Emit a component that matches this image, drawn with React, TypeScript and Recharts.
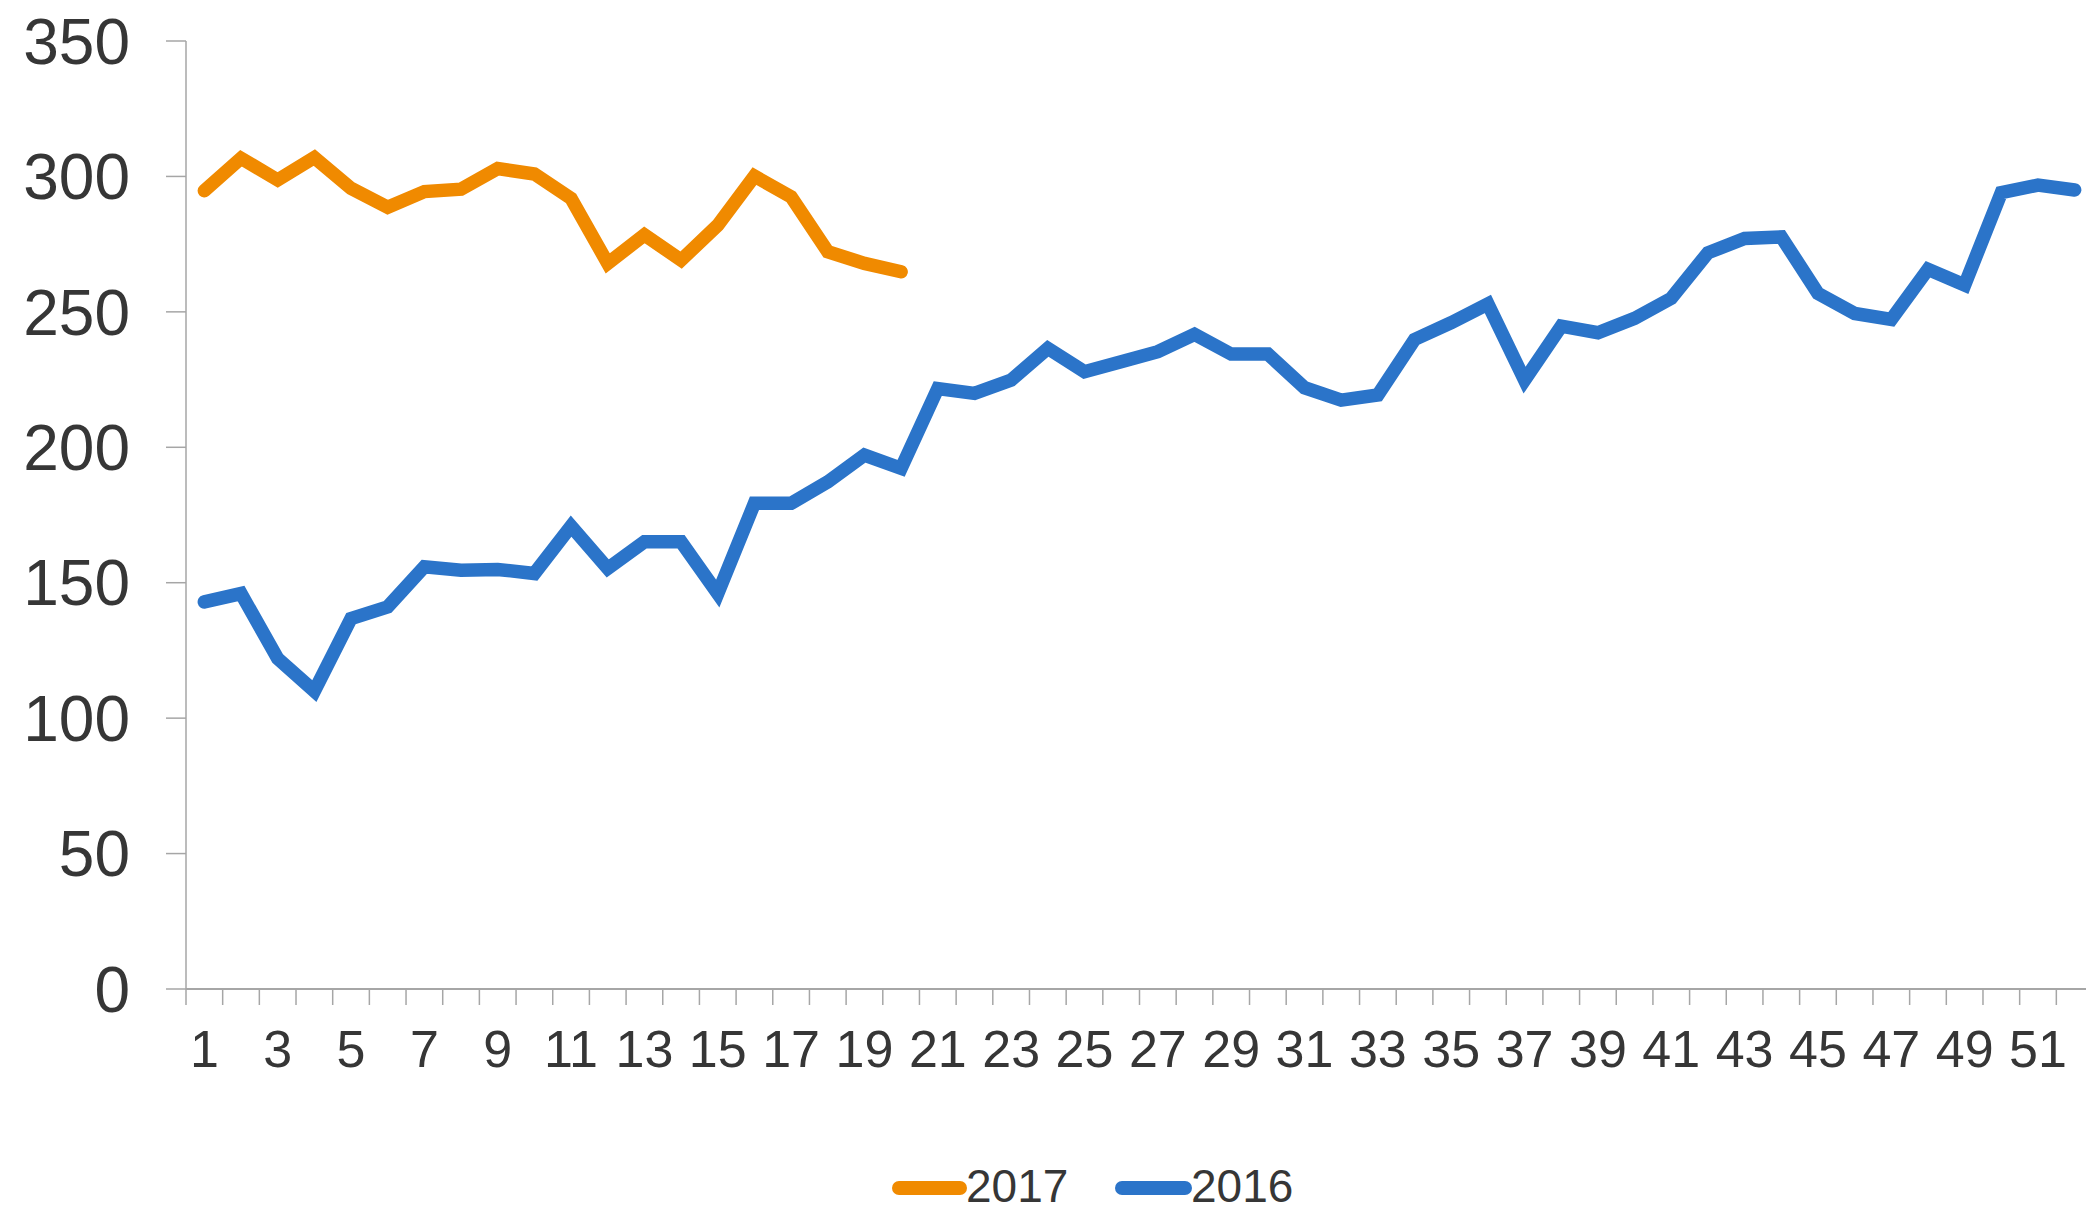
import React from 'react';
import { LineChart, Line, XAxis, YAxis, Legend } from 'recharts';

const weeks = [
  1, 2, 3, 4, 5, 6, 7, 8, 9, 10, 11, 12, 13, 14, 15, 16, 17, 18, 19, 20, 21, 22, 23, 24, 25, 26,
  27, 28, 29, 30, 31, 32, 33, 34, 35, 36, 37, 38, 39, 40, 41, 42, 43, 44, 45, 46, 47, 48, 49, 50, 51, 52,
];

const values2017 = [
  294.7, 306.7, 298.7, 307.0, 295.6, 288.6, 294.4, 295.3, 302.9, 300.9,
  291.9, 267.9, 278.4, 269.1, 282.0, 300.1, 292.5, 272.2, 267.9, 264.8,
];

const values2016 = [
  142.9, 146.0, 122.0, 110.0, 136.8, 141.1, 155.9, 154.6, 154.9, 153.4,
  170.9, 155.3, 165.1, 165.1, 146.0, 179.3, 179.3, 187.2, 197.1, 192.2,
  221.7, 219.9, 224.8, 236.5, 227.9, 231.6, 235.3, 241.7, 234.4, 234.4,
  222.0, 217.4, 219.3, 239.8, 246.0, 252.9, 224.8, 244.7, 242.3, 247.6,
  255.0, 271.8, 277.1, 277.7, 256.8, 249.4, 247.2, 265.7, 259.9, 294.0,
  296.8, 295.0,
];

const yTicks = [0, 50, 100, 150, 200, 250, 300, 350];

const seriesNames = ['2017', '2016'];
const seriesColors = ['#F08A00', '#2B74C9'];

const data = weeks.map((w, i) => ({
  week: w,
  s2017: i < values2017.length ? values2017[i] : undefined,
  s2016: values2016[i],
}));

const CHART_W = 2100;
const CHART_H = 1212;
const Y_AXIS_W = 186;
const MARGIN_RIGHT = 7;
const MARGIN_TOP = 41;
const X_AXIS_H = 223;
const AXIS_COLOR = '#A6A6A6';
const TEXT_COLOR = '#363636';
const FONT = '"Liberation Sans", Arial, Helvetica, sans-serif';
const HALF_BAND = (CHART_W - Y_AXIS_W - MARGIN_RIGHT) / weeks.length / 2;
const LINE_W = 13.5;

function WeekTick(props: any) {
  const { x, y, payload } = props;
  const v = payload.value;
  return (
    <g>
      <line
        x1={x - HALF_BAND}
        x2={x - HALF_BAND}
        y1={y}
        y2={y + 16}
        stroke={AXIS_COLOR}
        strokeWidth={1.5}
      />
      {v % 2 === 1 ? (
        <text
          x={x}
          y={y + 78}
          textAnchor="middle"
          fontSize={52}
          fill={TEXT_COLOR}
          fontFamily={FONT}
        >
          {v}
        </text>
      ) : null}
    </g>
  );
}

function LegendContent() {
  const items = [
    { name: seriesNames[0], color: seriesColors[0], x1: 899, x2: 960, tx: 966 },
    { name: seriesNames[1], color: seriesColors[1], x1: 1122, x2: 1185, tx: 1191 },
  ];
  return (
    <svg width={CHART_W} height={62} style={{ display: 'block' }}>
      {items.map((it) => (
        <g key={it.name}>
          <line
            x1={it.x1}
            x2={it.x2}
            y1={38}
            y2={38}
            stroke={it.color}
            strokeWidth={14}
            strokeLinecap="round"
          />
          <text x={it.tx} y={52} fontSize={46} fill={TEXT_COLOR} fontFamily={FONT}>
            {it.name}
          </text>
        </g>
      ))}
    </svg>
  );
}

export default function App() {
  return (
    <div
      style={{
        position: 'fixed',
        left: 0,
        top: 0,
        width: 2086,
        height: 1212,
        overflow: 'hidden',
        background: '#ffffff',
      }}
    >
      <LineChart
        width={CHART_W}
        height={CHART_H}
        data={data}
        margin={{ top: MARGIN_TOP, right: MARGIN_RIGHT, left: 0, bottom: 0 }}
      >
        <XAxis
          dataKey="week"
          type="number"
          domain={[0.5, 52.5]}
          ticks={weeks}
          interval={0}
          height={X_AXIS_H}
          tickSize={0}
          tickMargin={0}
          tickLine={false}
          axisLine={{ stroke: AXIS_COLOR, strokeWidth: 2 }}
          tick={<WeekTick />}
        />
        <YAxis
          type="number"
          domain={[0, 350]}
          ticks={yTicks}
          interval={0}
          width={Y_AXIS_W}
          tickSize={20}
          tickMargin={36}
          axisLine={{ stroke: AXIS_COLOR, strokeWidth: 1.5 }}
          tickLine={{ stroke: AXIS_COLOR, strokeWidth: 1.5 }}
          tick={{ fontSize: 64, fill: TEXT_COLOR, fontFamily: FONT }}
        />
        <Legend
          layout="horizontal"
          verticalAlign="middle"
          align="center"
          wrapperStyle={{ top: 1150, left: 0, width: CHART_W, height: 62 }}
          content={<LegendContent />}
        />
        <Line
          type="linear"
          dataKey="s2016"
          name={seriesNames[1]}
          stroke={seriesColors[1]}
          strokeWidth={LINE_W}
          strokeLinecap="round"
          dot={false}
          activeDot={false}
          isAnimationActive={false}
        />
        <Line
          type="linear"
          dataKey="s2017"
          name={seriesNames[0]}
          stroke={seriesColors[0]}
          strokeWidth={LINE_W}
          strokeLinecap="round"
          dot={false}
          activeDot={false}
          isAnimationActive={false}
        />
      </LineChart>
    </div>
  );
}
